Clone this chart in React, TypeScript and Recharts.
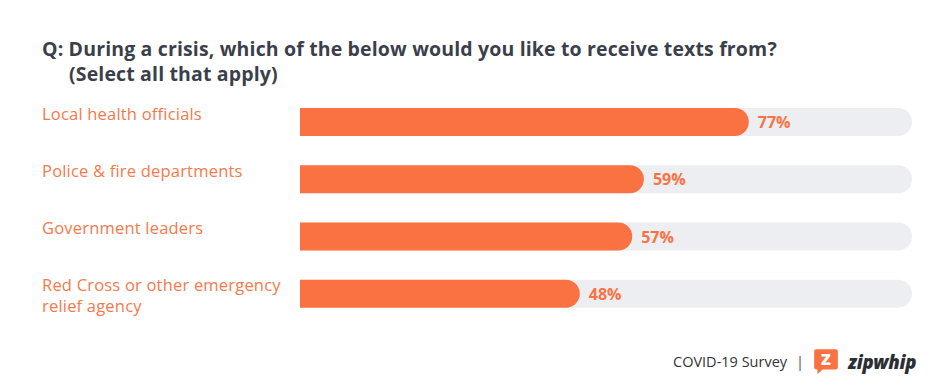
import { BarChart, Bar, XAxis, YAxis, LabelList } from 'recharts'

const categories = [
  ['Local health officials'],
  ['Police & fire departments'],
  ['Government leaders'],
  ['Red Cross or other emergency', 'relief agency'],
]
const shares = [77, 59, 57, 48]

const ORANGE = '#fb7242'
const TRACK = '#edeef2'
const FONT = '"Open Sans", "Noto Sans", sans-serif'

const data = categories.map((lines, i) => ({ name: lines.join('\n'), share: shares[i] }))

function CategoryTick({ y, payload }: any) {
  const lines = String(payload.value).split('\n')
  return (
    <text x={42} y={y - 2} fill="#f5794b" fontSize={16.5} fontFamily={FONT} textAnchor="start" letterSpacing={0.2}>
      {lines.map((l, i) => (
        <tspan key={i} x={42} dy={i === 0 ? 0 : 21}>{l}</tspan>
      ))}
    </text>
  )
}

function ValueLabel({ x, y, width, height, value }: any) {
  return (
    <text x={x + width + 9} y={y + height / 2 + 6} fill={ORANGE} fontSize={16}
      fontWeight={700} fontFamily={FONT}>
      {value}%
    </text>
  )
}

export default function App() {
  return (
    <div style={{ position: 'fixed', left: 0, top: 0, width: 940, height: 390, background: '#fff', fontFamily: FONT }}>
      <div style={{ position: 'absolute', left: 42, top: 36, fontSize: 19.5, fontWeight: 700, color: '#3b3f4b', lineHeight: '25px', letterSpacing: 0.15 }}>
        <div>Q: During a crisis, which of the below would you like to receive texts from?</div>
        <div style={{ paddingLeft: 27 }}>(Select all that apply)</div>
      </div>
      <BarChart width={940} height={390} data={data} layout="vertical"
        margin={{ top: 93, right: 28, bottom: 68, left: 0 }} barSize={28}>
        <XAxis type="number" dataKey="share" domain={[0, 105]} hide />
        <YAxis type="category" dataKey="name" width={300} axisLine={false} tickLine={false}
          tick={<CategoryTick />} interval={0} />
        <Bar dataKey="share" fill={ORANGE} radius={[0, 14, 14, 0]} isAnimationActive={false}
          background={{ fill: TRACK, radius: [0, 14, 14, 0] } as any}>
          <LabelList dataKey="share" content={<ValueLabel />} />
        </Bar>
      </BarChart>
      <div style={{ position: 'absolute', left: 673, top: 347, fontSize: 14.5, color: '#333', display: 'flex', alignItems: 'center', gap: 9 }}>
        <span>COVID-19 Survey</span>
        <span style={{ color: '#555' }}>|</span>
        <svg width={26} height={28} viewBox="0 0 24 26">
          <path d="M3 2 H21 Q23 2 23 4 V19 Q23 21 21 21 H9 L4 25 V21 H3 Q1 21 1 19 V4 Q1 2 3 2 Z" fill={ORANGE} />
          <text x={12} y={17} fill="#fff" fontSize={15} fontWeight={800} textAnchor="middle" fontFamily={FONT}>Z</text>
        </svg>
        <span style={{ fontWeight: 800, fontStyle: 'italic', fontSize: 18.5, color: '#2c2e36', letterSpacing: -0.3 }}>zipwhip</span>
      </div>
    </div>
  )
}
